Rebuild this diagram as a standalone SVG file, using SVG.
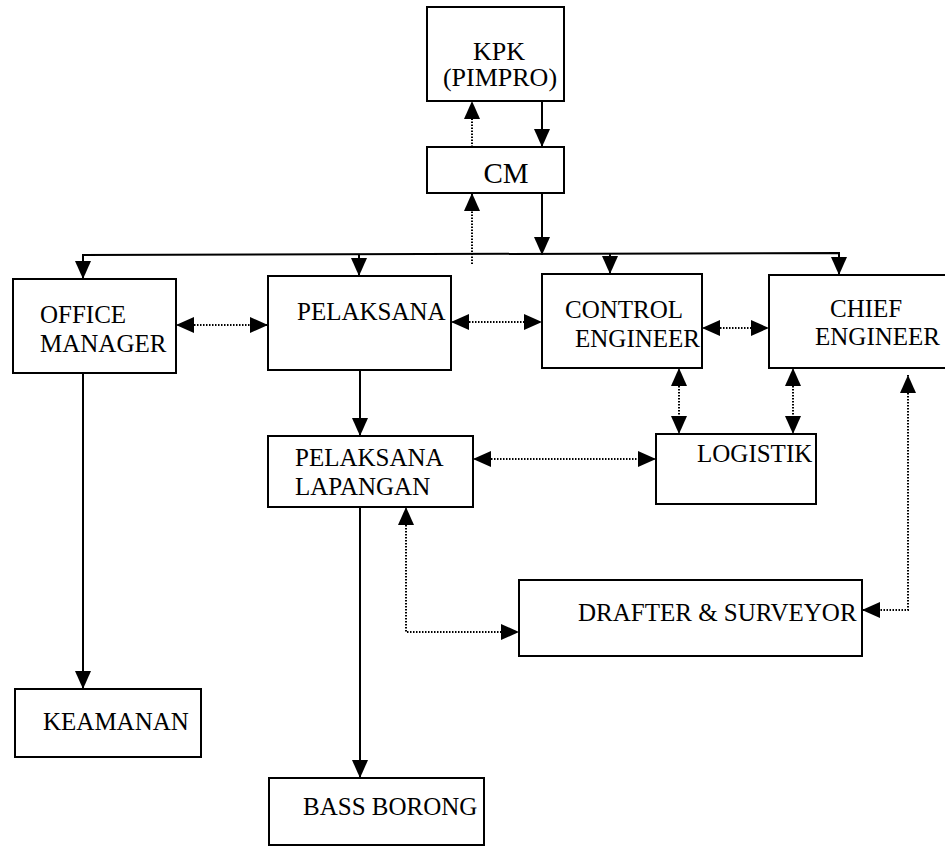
<svg xmlns="http://www.w3.org/2000/svg" width="945" height="847" viewBox="0 0 945 847">
  <defs>
    <marker id="arw" viewBox="0 0 18 16" refX="18" refY="8" markerWidth="18" markerHeight="16" markerUnits="userSpaceOnUse" orient="auto-start-reverse">
      <path d="M0,0 L18,8 L0,16 Z" fill="#000"/>
    </marker>
    <style>
      .box { fill: #fff; stroke: #000; stroke-width: 2; }
      .lbl { font-family: "Liberation Serif", "Times New Roman", serif; font-size: 25px; fill: #000; }
      .big { font-size: 26px; }
      .cm { font-size: 29px; }
      .solid { fill: none; stroke: #000; stroke-width: 2; }
      .dot { fill: none; stroke: #000; stroke-width: 2; stroke-dasharray: 1.5 1.5; }
      .end { marker-end: url(#arw); }
      .both { marker-start: url(#arw); marker-end: url(#arw); }
    </style>
  </defs>
  <rect width="945" height="847" fill="#fff"/>

  <!-- connectors -->
  <g id="connectors">
    <!-- KPK / CM -->
    <line class="solid end" x1="542" y1="101" x2="542" y2="147"/>
    <line class="dot end" x1="472" y1="147" x2="472" y2="101"/>
    <line class="solid end" x1="542" y1="193" x2="542" y2="255"/>
    <line class="dot end" x1="472" y1="264" x2="472" y2="193"/>
    <!-- distribution bus -->
    <polyline class="solid" points="83,279 83,255 839,253 839,275"/>
    <line class="solid end" x1="83" y1="256" x2="83" y2="279"/>
    <line class="solid end" x1="359" y1="255" x2="359" y2="276"/>
    <line class="solid end" x1="610" y1="254" x2="610" y2="274"/>
    <line class="solid end" x1="839" y1="254" x2="839" y2="275"/>
    <!-- second row links -->
    <line class="dot both" x1="176" y1="325" x2="268" y2="325"/>
    <line class="dot both" x1="451" y1="322" x2="542" y2="322"/>
    <line class="dot both" x1="702" y1="328" x2="769" y2="328"/>
    <line class="dot both" x1="679" y1="368" x2="679" y2="434"/>
    <line class="dot both" x1="793" y1="368" x2="793" y2="434"/>
    <line class="solid end" x1="360" y1="370" x2="360" y2="436"/>
    <line class="dot both" x1="473" y1="459" x2="656" y2="459"/>
    <polyline class="dot both" points="406,507 406,632 519,632"/>
    <polyline class="dot both" points="908,375 908,610 862,610"/>
    <line class="solid end" x1="83" y1="373" x2="83" y2="689"/>
    <line class="solid end" x1="360" y1="508" x2="360" y2="778"/>
  </g>

  <g id="kpk">
    <rect class="box" x="427" y="7" width="137" height="94"/>
    <text class="lbl big" x="499" y="60" text-anchor="middle">KPK</text>
    <text class="lbl big" x="500" y="86" text-anchor="middle">(PIMPRO)</text>
  </g>

  <g id="cm">
    <rect class="box" x="427" y="147" width="137" height="46"/>
    <text class="lbl cm" x="506" y="183" text-anchor="middle">CM</text>
  </g>

  <g id="office-manager">
    <rect class="box" x="13" y="279" width="163" height="94"/>
    <text class="lbl" x="40" y="323">OFFICE</text>
    <text class="lbl" x="40" y="352">MANAGER</text>
  </g>

  <g id="pelaksana">
    <rect class="box" x="268" y="276" width="183" height="94"/>
    <text class="lbl" x="297" y="320">PELAKSANA</text>
  </g>

  <g id="control-engineer">
    <rect class="box" x="542" y="274" width="160" height="94"/>
    <text class="lbl" x="565" y="318">CONTROL</text>
    <text class="lbl" x="575" y="347">ENGINEER</text>
  </g>

  <g id="chief-engineer">
    <rect class="box" x="769" y="275" width="185" height="93"/>
    <text class="lbl" x="830" y="317">CHIEF</text>
    <text class="lbl" x="815" y="345">ENGINEER</text>
  </g>

  <g id="pelaksana-lapangan">
    <rect class="box" x="268" y="436" width="205" height="71"/>
    <text class="lbl" x="295" y="466">PELAKSANA</text>
    <text class="lbl" x="295" y="495">LAPANGAN</text>
  </g>

  <g id="logistik">
    <rect class="box" x="656" y="434" width="160" height="70"/>
    <text class="lbl" x="697" y="462">LOGISTIK</text>
  </g>

  <g id="drafter-surveyor">
    <rect class="box" x="519" y="580" width="343" height="76"/>
    <text class="lbl" x="578" y="621">DRAFTER &amp; SURVEYOR</text>
  </g>

  <g id="keamanan">
    <rect class="box" x="15" y="689" width="186" height="68"/>
    <text class="lbl" x="43" y="730">KEAMANAN</text>
  </g>

  <g id="bass-borong">
    <rect class="box" x="269" y="778" width="215" height="67"/>
    <text class="lbl" x="303" y="815">BASS BORONG</text>
  </g>
</svg>
